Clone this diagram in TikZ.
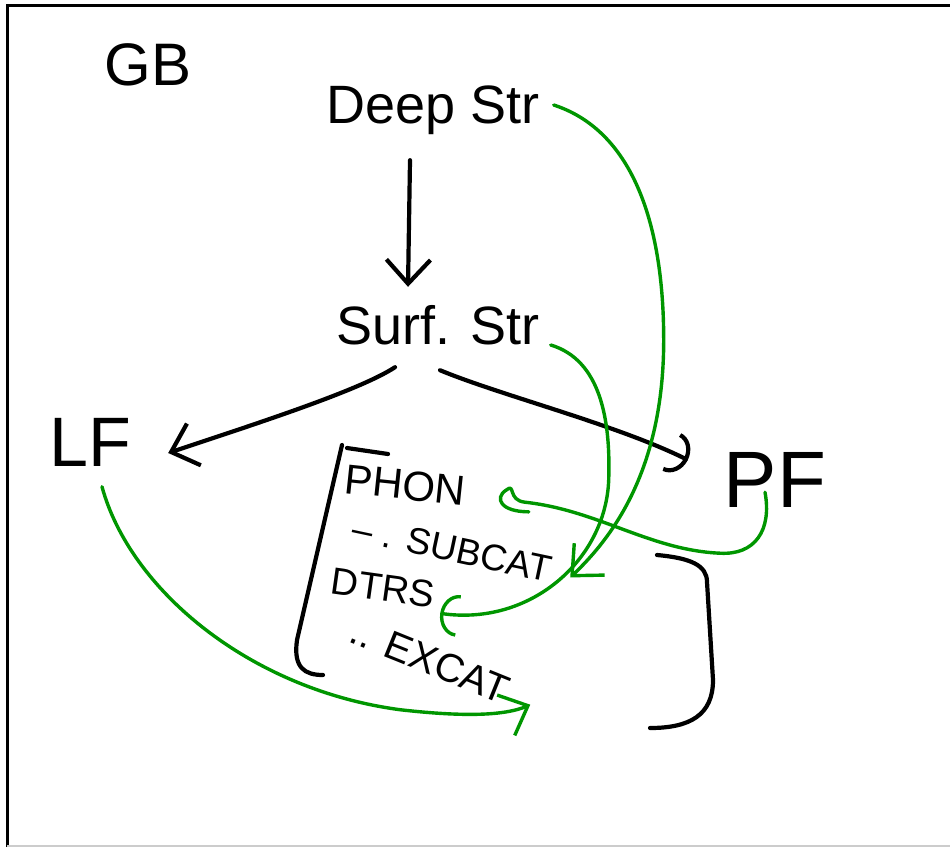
\documentclass[tikz,border=0pt]{standalone}
\usepackage{fontspec}
\setmainfont{Liberation Sans}
\usetikzlibrary{arrows.meta}
\definecolor{pen}{RGB}{0,150,0}
\begin{document}
\begin{tikzpicture}[x=1pt,y=-1pt,
  lbl/.style={inner sep=0pt, align=center},
  ink/.style={line width=4.2pt, line cap=round, line join=round, black},
  link/.style={line width=3.4pt, line cap=round, line join=round, pen},
  barb/.style={-{Straight Barb[length=24pt,width=44pt]}},
  arcbarb/.style={-{Arc Barb[length=18pt,width=42pt]}}]
\useasboundingbox (0,0) rectangle (950,847);
% frame
\draw[line width=3pt] (7,847) -- (7,5) -- (950,5);
\draw[black!20, line width=1.5pt] (7,846) -- (950,846);

% labels
\node[lbl, font=\fontsize{60}{60}\selectfont] (gb) at (148,65) {GB};
\node[lbl, font=\fontsize{54}{54}\selectfont, minimum width=225pt, minimum height=60pt] (deep) at (433,110) {Deep Str};
\node[lbl, font=\fontsize{54}{54}\selectfont, minimum width=215pt, minimum height=50pt] (surf) at (438,325) {Surf. Str};
\node[lbl, font=\fontsize{70}{70}\selectfont, minimum width=90pt, minimum height=55pt] (lf) at (90,442) {LF};
\node[lbl, font=\fontsize{80}{80}\selectfont, minimum width=110pt, minimum height=80pt] (pf) at (775,480) {PF};

% feature structure rows
\node[lbl, font=\fontsize{42}{42}\selectfont, minimum width=130pt, rotate=-6] (phon) at (405,485) {PHON};
\node[lbl, font=\fontsize{37}{37}\selectfont, minimum width=225pt, rotate=-12] (subcat) at (452,549) {– . SUBCAT};
\node[lbl, font=\fontsize{38}{38}\selectfont, minimum width=105pt, rotate=-8] (dtrs) at (383,588) {DTRS};
\node[lbl, font=\fontsize{40}{40}\selectfont, minimum width=190pt, rotate=-22] (excat) at (430,660) {.. EXCAT};

% brackets around the feature structure
\draw[ink] (388,454) -- (347,448);
\draw[ink] (342,445) -- (297,640) .. controls (293,668) and (305,675) .. (323,675);
\draw[ink] (657,555) .. controls (690,558) and (707,565) .. (707,582) -- (713,680)
  .. controls (713,715) and (690,728) .. (650,728);

% derivation arrows
\draw[ink, barb] ([xshift=-23pt,yshift=-20pt]deep.south) -- ([xshift=-30pt,yshift=13pt]surf.north);
\draw[ink, barb] ([xshift=-43pt,yshift=-17pt]surf.south)
  .. controls +(-35,23) and +(90,-30) .. ([xshift=33pt,yshift=-11pt]lf.east);
\draw[ink, arcbarb] ([xshift=2pt,yshift=-20pt]surf.south)
  .. controls +(60,25) and +(-70,-35) .. ([xshift=-32pt,yshift=20pt]pf.west);

% links into the feature structure
\draw[link, barb] ([xshift=8pt,yshift=5pt]deep.east)
  .. controls +(77,25) and +(0,-120) .. ++(110,235)
  .. controls +(0,130) and +(42,-40) .. ([xshift=8pt,yshift=-5pt]subcat.east);
\draw[link, arcbarb] ([xshift=5pt,yshift=-20pt]surf.east)
  .. controls +(50,15) and +(2,-60) .. ++(58,135)
  .. controls +(-3,80) and +(90,13) .. ([xshift=5pt,yshift=-18pt]dtrs.east);
\draw[link] ([xshift=-10pt,yshift=28pt]pf.south)
  .. controls +(7,38) and +(35,2) .. ++(-45,61)
  .. controls +(-70,-3) and +(73,8) .. ++(-195,-51)
  .. controls +(-18,-2) and +(10,-8) .. ++(-19,-12)
  .. controls +(-12,8) and +(-28,0) .. ([xshift=59pt,yshift=-20pt]phon.east);
\draw[link, barb] ([xshift=12pt,yshift=-17pt]lf.south)
  .. controls +(28,103) and +(-150,-20) .. ++(298,223)
  .. controls +(70,8) and +(-23,10) .. ([xshift=12pt,yshift=-9pt]excat.east);
\end{tikzpicture}
\end{document}
